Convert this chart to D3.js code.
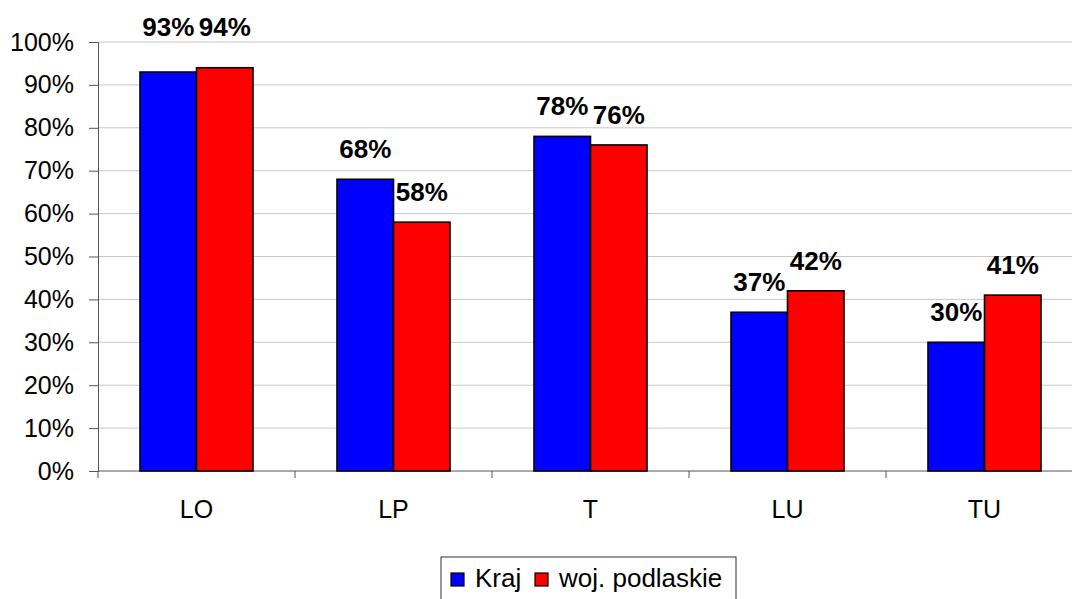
<!DOCTYPE html>
<html>
<head>
<meta charset="UTF-8">
<style>
  body { margin: 0; background: #fff; }
  svg { display: block; font-family: 'Liberation Sans', Arial, sans-serif; }
  .grid line { stroke: #c8c8c8; stroke-width: 1px; }
  .axis path, .axis line { stroke: #555; }
  .axis text { font-size: 25px; fill: #000; }
  .lbl { font-size: 26px; font-weight: bold; text-anchor: middle; }
</style>
</head>
<body>
<script src="https://d3js.org/d3.v7.min.js"></script>
<script>
const categories = ["LO", "LP", "T", "LU", "TU"];
const seriesNames = ["Kraj", "woj. podlaskie"];
const kraj = [0.93, 0.68, 0.78, 0.37, 0.30];
const podlaskie = [0.94, 0.58, 0.76, 0.42, 0.41];
const colors = ["#0000ff", "#ff0000"];
const yTicks = [0, 0.1, 0.2, 0.3, 0.4, 0.5, 0.6, 0.7, 0.8, 0.9, 1.0];

let width = 1072, height = 599;
let plotL = 98, plotR = 1083, plotT = 42, plotB = 471;

let svg = d3.select("body").append("svg")
  .attr("width", width).attr("height", height);

let x = d3.scaleBand().domain(categories).range([plotL, plotR]).paddingInner(0).paddingOuter(0);
let y = d3.scaleLinear().domain([0, 1]).range([plotB, plotT]);
let barW = 56.5;

// gridlines
svg.append("g").attr("class", "grid")
  .selectAll("line")
  .data(yTicks.slice(1))
  .enter().append("line")
  .attr("x1", plotL).attr("x2", plotR)
  .attr("y1", d => y(d)).attr("y2", d => y(d));

// y axis
let yAxis = svg.append("g").attr("class", "axis")
  .attr("transform", "translate(" + plotL + ",0)")
  .call(d3.axisLeft(y).tickValues(yTicks).tickFormat(d3.format(".0%")).tickSize(9).tickPadding(15));

// x axis with ticks at category boundaries
let xAxis = svg.append("g").attr("class", "axis")
  .attr("transform", "translate(0," + plotB + ")")
  .call(d3.axisBottom(x).tickSize(0).tickPadding(29));
xAxis.select(".domain").attr("d", "M" + plotL + ",0H" + plotR);
xAxis.selectAll(".bnd")
  .data(categories.map((c, i) => i))
  .enter().append("line")
  .attr("class", "bnd")
  .attr("x1", i => plotL + i * x.bandwidth()).attr("x2", i => plotL + i * x.bandwidth())
  .attr("y1", 0).attr("y2", 7)
  .attr("stroke", "#555");

let series = [kraj, podlaskie];

// bars
series.forEach((vals, s) => {
  svg.append("g")
    .selectAll("rect")
    .data(vals)
    .enter().append("rect")
    .attr("x", (d, i) => x(categories[i]) + x.bandwidth() / 2 - barW + s * barW)
    .attr("y", d => y(d))
    .attr("width", barW)
    .attr("height", d => y(0) - y(d))
    .attr("fill", colors[s])
    .attr("stroke", "#000")
    .attr("stroke-width", 1.6);
});

// value labels (pushed above the 100% line when the bar is near the top)
series.forEach((vals, s) => {
  svg.append("g")
    .selectAll("text")
    .data(vals)
    .enter().append("text")
    .attr("class", "lbl")
    .attr("x", (d, i) => x(categories[i]) + x.bandwidth() / 2 - barW / 2 + s * barW)
    .attr("y", d => (y(d) - 21 - 18 < y(1)) ? y(1) - 6 : y(d) - 21)
    .text(d => Math.round(d * 100) + "%");
});

// legend
let lg = svg.append("g").attr("transform", "translate(441,557)");
lg.append("rect").attr("x", 0).attr("y", 0).attr("width", 295).attr("height", 44)
  .attr("fill", "#fff").attr("stroke", "#333").attr("stroke-width", 1);
let lx = [10, 94];
seriesNames.forEach((n, i) => {
  lg.append("rect").attr("x", lx[i]).attr("y", 16).attr("width", 13).attr("height", 13)
    .attr("fill", colors[i]).attr("stroke", "#000").attr("stroke-width", 1.2);
  lg.append("text").attr("x", lx[i] + 24).attr("y", 30)
    .attr("font-size", "26px").text(n);
});
</script>
</body>
</html>
